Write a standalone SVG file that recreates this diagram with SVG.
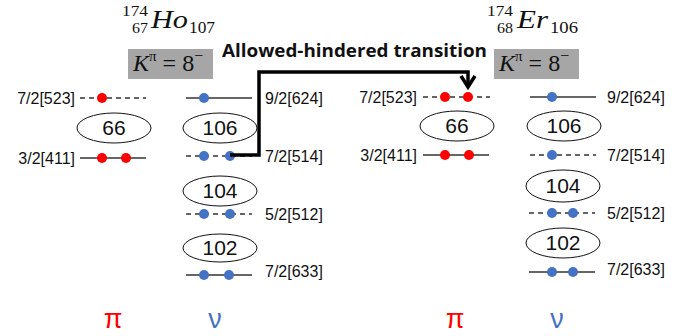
<svg xmlns="http://www.w3.org/2000/svg" width="691" height="336" viewBox="0 0 691 336">
<defs>
<style>
.lvl{stroke:#333;stroke-width:1.5;fill:none}
.dash{stroke-dasharray:5,4}
.lab{font-family:"Liberation Sans",Arial,sans-serif;font-size:16px;fill:#111}
.ell{fill:#fff;stroke:#111;stroke-width:1}
.num{font-family:"Liberation Sans",Arial,sans-serif;font-size:21px;fill:#111;text-anchor:middle}
.p{fill:#ff0000}
.n{fill:#4472c4}
.math{font-family:"Liberation Serif","DejaVu Serif",serif;fill:#111}
.box{fill:#a6a6a6}
.big{font-family:"Liberation Sans",Arial,sans-serif;font-size:27px;text-anchor:middle}
</style>
</defs>
<rect width="691" height="336" fill="#fff"/>

<g id="title-ho">
<text class="math" x="122" y="16" font-size="15" textLength="26" lengthAdjust="spacingAndGlyphs">174</text>
<text class="math" x="132" y="33" font-size="15" textLength="16" lengthAdjust="spacingAndGlyphs">67</text>
<text class="math" x="151" y="28" font-size="26" font-style="italic" textLength="37" lengthAdjust="spacingAndGlyphs">Ho</text>
<text class="math" x="189" y="33" font-size="17" textLength="26" lengthAdjust="spacingAndGlyphs">107</text>
</g>
<g id="kbox-ho">
<rect class="box" x="128" y="49" width="85" height="30"/>
<text class="math" x="133" y="71" font-size="24"><tspan font-style="italic">K</tspan><tspan font-size="15" dy="-10">π</tspan><tspan dy="10"> = 8</tspan><tspan font-size="16" dy="-10">−</tspan></text>
</g>

<g id="title-er">
<text class="math" x="487" y="16" font-size="15" textLength="26" lengthAdjust="spacingAndGlyphs">174</text>
<text class="math" x="497" y="33" font-size="15" textLength="16" lengthAdjust="spacingAndGlyphs">68</text>
<text class="math" x="517" y="28" font-size="26" font-style="italic" textLength="31" lengthAdjust="spacingAndGlyphs">Er</text>
<text class="math" x="550" y="33" font-size="17" textLength="28" lengthAdjust="spacingAndGlyphs">106</text>
</g>
<g id="kbox-er">
<rect class="box" x="494" y="49" width="85" height="30"/>
<text class="math" x="499" y="71" font-size="24"><tspan font-style="italic">K</tspan><tspan font-size="15" dy="-10">π</tspan><tspan dy="10"> = 8</tspan><tspan font-size="16" dy="-10">−</tspan></text>
</g>

<!-- Ho protons -->
<g id="ho-p-523">
<line class="lvl dash" x1="80" y1="98" x2="146" y2="98"/>
<circle class="p" cx="102" cy="98" r="5"/>
<text class="lab" x="75" y="104" text-anchor="end">7/2[523]</text>
</g>
<g id="ho-p-66">
<ellipse class="ell" cx="114" cy="128" rx="37" ry="15"/>
<text class="num" x="114" y="135">66</text>
</g>
<g id="ho-p-411">
<line class="lvl" x1="80" y1="158" x2="146" y2="158"/>
<circle class="p" cx="102" cy="158" r="5"/>
<circle class="p" cx="126" cy="158" r="5"/>
<text class="lab" x="75" y="164" text-anchor="end">3/2[411]</text>
</g>

<!-- Ho neutrons -->
<g id="ho-n-624">
<line class="lvl" x1="186" y1="98" x2="252" y2="98"/>
<circle class="n" cx="204" cy="98" r="5"/>
<text class="lab" x="265" y="104">9/2[624]</text>
</g>
<g id="ho-n-106">
<ellipse class="ell" cx="220" cy="128" rx="37" ry="15"/>
<text class="num" x="220" y="135">106</text>
</g>
<g id="ho-n-514">
<line class="lvl dash" x1="186" y1="156" x2="252" y2="156"/>
<circle class="n" cx="204" cy="156" r="5"/>
<circle class="n" cx="230" cy="156" r="5"/>
<text class="lab" x="265" y="162">7/2[514]</text>
</g>
<g id="ho-n-104">
<ellipse class="ell" cx="220" cy="191" rx="37" ry="15"/>
<text class="num" x="220" y="198">104</text>
</g>
<g id="ho-n-512">
<line class="lvl dash" x1="186" y1="214" x2="252" y2="214"/>
<circle class="n" cx="204" cy="214" r="5"/>
<circle class="n" cx="230" cy="214" r="5"/>
<text class="lab" x="265" y="220">5/2[512]</text>
</g>
<g id="ho-n-102">
<ellipse class="ell" cx="220" cy="248" rx="37" ry="14"/>
<text class="num" x="220" y="255">102</text>
</g>
<g id="ho-n-633">
<line class="lvl" x1="186" y1="275" x2="252" y2="275"/>
<circle class="n" cx="204" cy="275" r="5"/>
<circle class="n" cx="229" cy="275" r="5"/>
<text class="lab" x="265" y="277">7/2[633]</text>
</g>

<!-- Er protons -->
<g id="er-p-523">
<line class="lvl dash" x1="423" y1="97" x2="490" y2="97"/>
<circle class="p" cx="445" cy="97" r="5"/>
<circle class="p" cx="468" cy="97" r="5"/>
<text class="lab" x="417" y="103" text-anchor="end">7/2[523]</text>
</g>
<g id="er-p-66">
<ellipse class="ell" cx="457" cy="126" rx="37" ry="15"/>
<text class="num" x="457" y="133">66</text>
</g>
<g id="er-p-411">
<line class="lvl" x1="423" y1="155" x2="489" y2="155"/>
<circle class="p" cx="445" cy="155" r="5"/>
<circle class="p" cx="469" cy="155" r="5"/>
<text class="lab" x="417" y="161" text-anchor="end">3/2[411]</text>
</g>

<!-- Er neutrons -->
<g id="er-n-624">
<line class="lvl" x1="530" y1="97" x2="596" y2="97"/>
<circle class="n" cx="552" cy="97" r="5"/>
<text class="lab" x="607" y="103">9/2[624]</text>
</g>
<g id="er-n-106">
<ellipse class="ell" cx="564" cy="126" rx="37" ry="15"/>
<text class="num" x="564" y="133">106</text>
</g>
<g id="er-n-514">
<line class="lvl dash" x1="530" y1="155" x2="596" y2="155"/>
<circle class="n" cx="552" cy="155" r="5"/>
<text class="lab" x="607" y="161">7/2[514]</text>
</g>
<g id="er-n-104">
<ellipse class="ell" cx="563" cy="186" rx="37" ry="16"/>
<text class="num" x="563" y="193">104</text>
</g>
<g id="er-n-512">
<line class="lvl dash" x1="529" y1="213" x2="595" y2="213"/>
<circle class="n" cx="552" cy="213" r="5"/>
<circle class="n" cx="573" cy="213" r="5"/>
<text class="lab" x="607" y="219">5/2[512]</text>
</g>
<g id="er-n-102">
<ellipse class="ell" cx="563" cy="243" rx="37" ry="15"/>
<text class="num" x="563" y="250">102</text>
</g>
<g id="er-n-633">
<line class="lvl" x1="529" y1="272" x2="595" y2="272"/>
<circle class="n" cx="552" cy="272" r="5"/>
<circle class="n" cx="573" cy="272" r="5"/>
<text class="lab" x="607" y="275">7/2[633]</text>
</g>

<g id="labels-bottom">
<text class="big" x="113" y="328" fill="#ff0000">π</text>
<text class="big" x="215" y="328" fill="#4472c4">ν</text>
<text class="big" x="455" y="328" fill="#ff0000">π</text>
<text class="big" x="557" y="328" fill="#4472c4">ν</text>
</g>

<g id="connectors">
<polyline points="230,155 259,155 259,72 468,72 468,86" fill="none" stroke="#000" stroke-width="3.5" stroke-linejoin="miter"/>
<polyline points="461,76 468,87 475,76" fill="none" stroke="#000" stroke-width="3.5"/>
<text x="222" y="57" font-family="'Open Sans','Liberation Sans',Arial,sans-serif" font-weight="bold" font-size="17" fill="#111" textLength="265" lengthAdjust="spacingAndGlyphs">Allowed-hindered transition</text>
</g>
</svg>
